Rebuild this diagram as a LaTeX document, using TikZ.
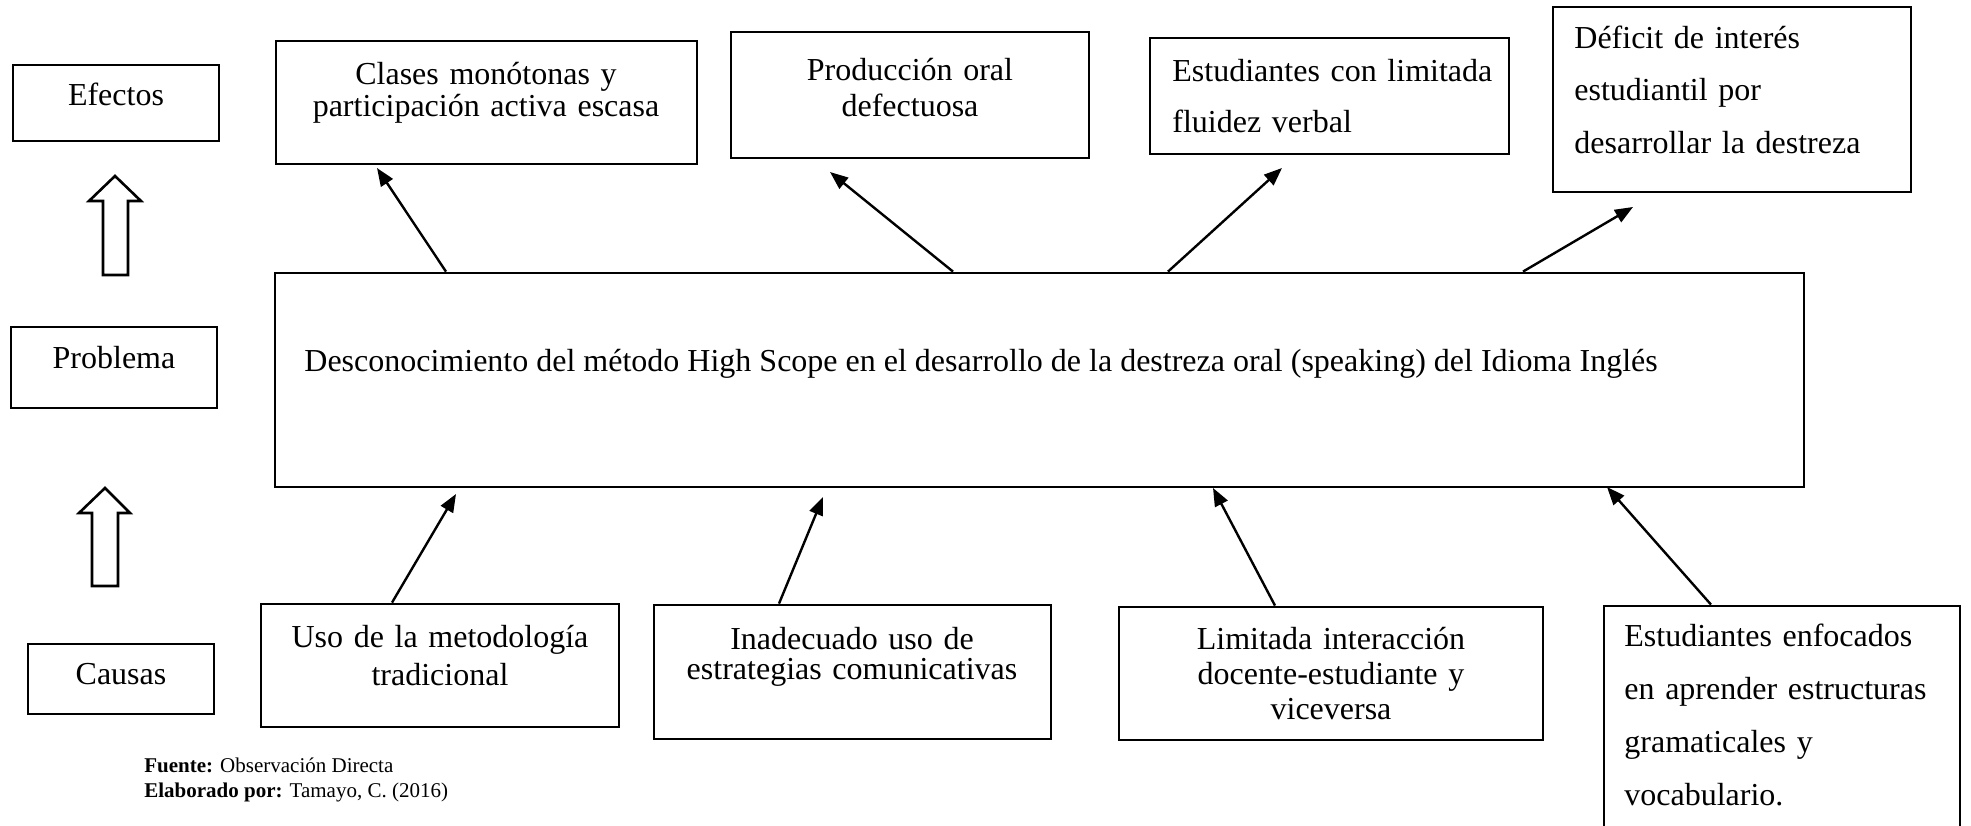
\documentclass[tikz,border=0pt]{standalone}
\usepackage{fontspec}
\setmainfont{Liberation Serif}
\usetikzlibrary{arrows.meta,fit}
\begin{document}
\begin{tikzpicture}[x=0.5pt,y=-0.5pt,
  box/.style={draw, line width=1.4pt, inner sep=0pt},
  lbl/.style={inner sep=0pt, anchor=base, font=\fontsize{16pt}{19pt}\selectfont},
  conn/.style={line width=1.2pt, -{Triangle[length=9pt,width=7pt]}},
  hollow/.style={draw, line width=1.3pt, fill=white, line join=miter}]
\useasboundingbox (0,0) rectangle (1971,825);

% level labels
\node[box, fit={(13,65)(219,141)}] (efectos) {};
\node[lbl] (efectosT) at (116,105) {Efectos};
\node[box, fit={(11,327)(217,408)}] (problema) {};
\node[lbl] (problemaT) at (114,368) {Problema};
\node[box, fit={(28,644)(214,714)}] (causas) {};
\node[lbl] (causasT) at (121,684) {Causas};

% hollow arrows
\path[hollow] (103,275) -- (103,201) -- (89,201) -- (115,176) -- (141,201) -- (128,201) -- (128,275) -- cycle;
\path[hollow] (92,586) -- (92,513) -- (79,513) -- (105,488) -- (130,513) -- (118,513) -- (118,586) -- cycle;

% effects
\node[box, fit={(276,41)(697,164)}] (e1) {};
\node[lbl, align=center, text width=200pt, font=\fontsize{16pt}{16pt}\selectfont] (e1T) at (486,84) {Clases monótonas y\\participación activa escasa};
\node[box, fit={(731,32)(1089,158)}] (e2) {};
\node[lbl, align=center, text width=170pt, font=\fontsize{16pt}{18pt}\selectfont] (e2T) at (910,80) {Producción oral\\defectuosa};
\node[box, fit={(1150,38)(1509,154)}] (e3) {};
\node[lbl, anchor=base west, align=left, text width=170pt, font=\fontsize{16pt}{25.5pt}\selectfont] (e3T) at (1172,81) {Estudiantes con limitada\\fluidez verbal};
\node[box, fit={(1553,7)(1911,192)}] (e4) {};
\node[lbl, anchor=base west, align=left, text width=170pt, font=\fontsize{16pt}{26.4pt}\selectfont] (e4T) at (1574,48) {Déficit de interés\\estudiantil por\\desarrollar la destreza};

% problem
\node[box, fit={(275,273)(1804,487)}] (big) {};
\node[lbl, anchor=base west] (bigT) at (304,371) {Desconocimiento del método High Scope en el desarrollo de la destreza oral (speaking) del Idioma Inglés};

% causes
\node[box, fit={(261,604)(619,727)}] (c1) {};
\node[lbl, align=center, text width=175pt, font=\fontsize{16pt}{19pt}\selectfont] (c1T) at (440,647) {Uso de la metodología\\tradicional};
\node[box, fit={(654,605)(1051,739)}] (c2) {};
\node[lbl, align=center, text width=195pt, font=\fontsize{16pt}{15pt}\selectfont] (c2T) at (852,649) {Inadecuado uso de\\estrategias comunicativas};
\node[box, fit={(1119,607)(1543,740)}] (c3) {};
\node[lbl, align=center, text width=205pt, font=\fontsize{16pt}{17.5pt}\selectfont] (c3T) at (1331,649) {Limitada interacción\\docente-estudiante y\\viceversa};
\node[box, fit={(1604,606)(1960,840)}] (c4) {};
\node[lbl, anchor=base west, align=left, text width=172pt, font=\fontsize{16pt}{26.5pt}\selectfont] (c4T) at (1624,646) {Estudiantes enfocados\\en aprender estructuras\\gramaticales y\\vocabulario.};

% source (anchor on the baseline of the last line)
\node[inner sep=0pt, anchor=base west, align=left, font=\fontsize{10.5pt}{12.5pt}\selectfont] (fuente) at (144,797) {\textbf{Fuente:} Observación Directa\\\textbf{Elaborado por:} Tamayo, C. (2016)};

% arrow tips (free ends)
\coordinate (h1) at (377,168);
\coordinate (h2) at (830,172);
\coordinate (h3) at (1282,168);
\coordinate (h4) at (1633,207);
\coordinate (k1) at (456,494);
\coordinate (k2) at (823,497);
\coordinate (k3) at (1213,488);
\coordinate (k4) at (1607,487);

% connectors
\draw[conn] (big.north -| 446,0) -- (h1);
\draw[conn] (big.north -| 953,0) -- (h2);
\draw[conn] (big.north -| 1168,0) -- (h3);
\draw[conn] (big.north -| 1523,0) -- (h4);
\draw[conn] (c1.north -| 392,0) -- (k1);
\draw[conn] (c2.north -| 779,0) -- (k2);
\draw[conn] (c3.north -| 1275,0) -- (k3);
\draw[conn] (c4.north -| 1711,0) -- (k4);
\end{tikzpicture}
\end{document}
